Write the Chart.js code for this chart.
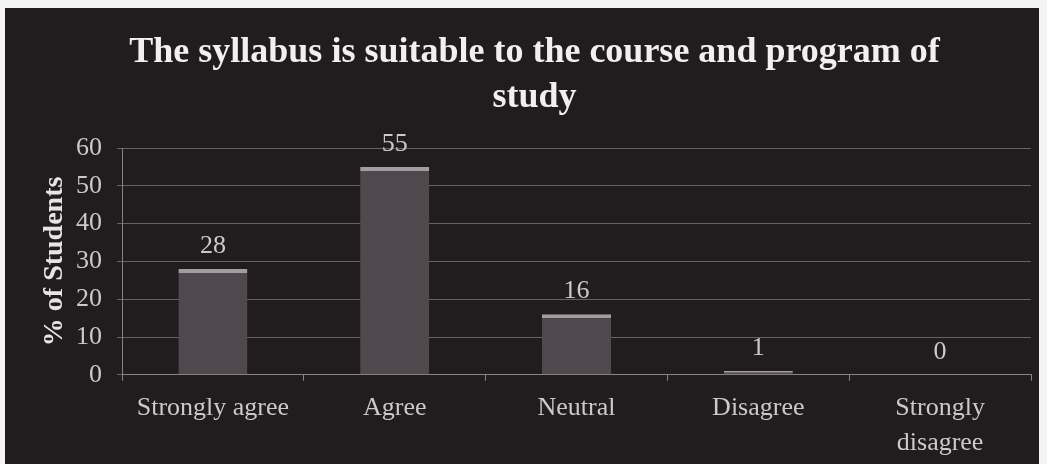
<!DOCTYPE html>
<html>
<head>
<meta charset="utf-8">
<script src="https://cdn.jsdelivr.net/npm/chart.js@4.4.1/dist/chart.umd.min.js"></script>
<style>
  html, body { margin: 0; padding: 0; background: #f4f4f4; }
  #wrap { position: absolute; left: 5px; top: 8px; width: 1034px; height: 456px; background: #211c1d; }
</style>
</head>
<body>
<div id="wrap"><canvas id="chart"></canvas></div>
<script>
// data
const categories = ['Strongly agree', 'Agree', 'Neutral', 'Disagree', ['Strongly', 'disagree']];
const percentStudents = [28, 55, 16, 1, 0];
const yTicks = [0, 10, 20, 30, 40, 50, 60];

const serif = '"Liberation Serif", "Times New Roman", serif';
const textGrey = '#cdc8c9';

// values printed above each bar
const valueLabels = {
  id: 'valueLabels',
  afterDatasetsDraw(chart) {
    const ctx = chart.ctx;
    const meta = chart.getDatasetMeta(0);
    ctx.save();
    ctx.font = '26px ' + serif;
    ctx.fillStyle = textGrey;
    ctx.textAlign = 'center';
    ctx.textBaseline = 'bottom';
    meta.data.forEach((bar, i) => {
      ctx.fillText(String(percentStudents[i]), bar.x, bar.y - 10);
    });
    ctx.restore();
  }
};

new Chart(document.getElementById('chart'), {
  type: 'bar',
  data: {
    labels: categories,
    datasets: [{
      data: percentStudents,
      backgroundColor: '#4f494d',
      borderColor: '#a29ca0',
      borderWidth: { top: 4, left: 0, right: 0, bottom: 0 },
      borderSkipped: false,
      barPercentage: 0.38,
      categoryPercentage: 1.0
    }]
  },
  options: {
    responsive: true,
    maintainAspectRatio: false,
    animation: false,
    layout: { padding: { left: 33, right: 8, top: 22, bottom: -7 } },
    plugins: {
      legend: { display: false },
      tooltip: { enabled: false },
      title: {
        display: true,
        text: ['The syllabus is suitable to the course and program of', 'study'],
        color: '#f2eff0',
        font: { family: serif, size: 36, weight: 'bold', lineHeight: 1.25 },
        padding: { top: 0, bottom: 28 }
      }
    },
    scales: {
      x: {
        grid: { display: true, drawOnChartArea: false, color: '#8a8486', tickLength: 6, offset: true },
        border: { color: '#8a8486' },
        ticks: { color: textGrey, font: { family: serif, size: 26, lineHeight: 1.35 }, padding: 10, maxRotation: 0 }
      },
      y: {
        min: 0,
        max: 60,
        afterBuildTicks: axis => { axis.ticks = yTicks.map(v => ({ value: v })); },
        afterFit: axis => { axis.width = 84; },
        grid: { color: '#676163', tickLength: 5 },
        border: { color: '#8a8486' },
        ticks: { color: textGrey, font: { family: serif, size: 26 }, padding: 15 },
        title: {
          display: true,
          text: '% of Students',
          color: '#e8e4e5',
          font: { family: serif, size: 28, weight: 'bold' },
          padding: { top: 0, bottom: 4 }
        }
      }
    }
  },
  plugins: [valueLabels]
});
</script>
</body>
</html>
